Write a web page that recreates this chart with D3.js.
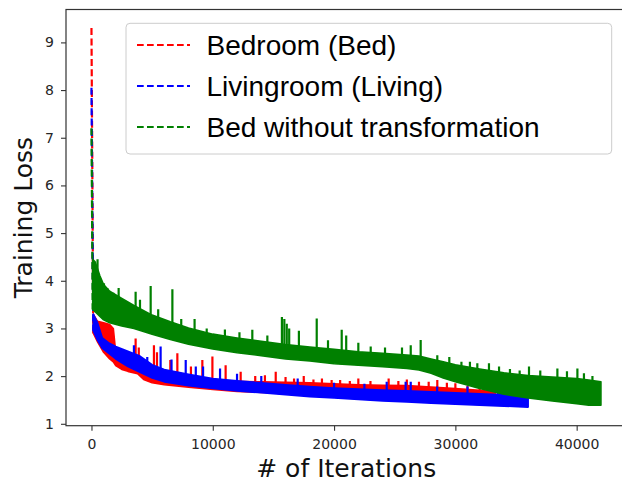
<!DOCTYPE html>
<html>
<head>
<meta charset="utf-8">
<script src="https://cdn.jsdelivr.net/npm/d3@7"></script>
<style>
  body { margin: 0; background: #fff; }
  svg { display: block; }
</style>
</head>
<body>
<svg id="chart"></svg>
<script>
// series labels / colours
const names = ["Bedroom (Bed)", "Livingroom (Living)", "Bed without transformation"];
const colors = ["#ff0000", "#0000ff", "#008000"];
const xTicks = [0, 10000, 20000, 30000, 40000];
const yTicks = [1, 2, 3, 4, 5, 6, 7, 8, 9];
// loss at iteration 0
const startPeaks = [9.3, 8.05, 7.2];

// Bedroom (Bed): band of the noisy loss curve
const bedIter = [150, 500, 1000, 1500, 1800, 2000, 2500, 3000, 3800, 4300, 5000, 6000, 8000, 10000, 12000, 14000, 16000, 18000, 20000, 22000, 24000, 26000, 28000, 30000, 32000, 33300];
const bedHigh = [3.3, 3.15, 3.12, 3.08, 3.0, 2.5, 2.38, 2.32, 2.26, 2.16, 2.06, 1.99, 1.94, 1.91, 1.89, 1.88, 1.87, 1.86, 1.84, 1.82, 1.81, 1.8, 1.77, 1.74, 1.7, 1.67];
const bedLow = [2.9, 2.72, 2.5, 2.36, 2.3, 2.22, 2.14, 2.1, 2.05, 1.93, 1.86, 1.82, 1.77, 1.72, 1.68, 1.66, 1.65, 1.63, 1.61, 1.6, 1.58, 1.57, 1.55, 1.53, 1.5, 1.5];
const bedSpikeIter = [1600, 3640, 3900, 5150, 5400, 6500, 7080, 8200, 9140, 9970, 11060, 12300, 13500, 14300, 15190, 16000, 16700, 17500, 18300, 19000, 19800, 20500, 21300, 22000, 23000, 24500, 25300, 26000, 27000, 27800, 28510, 29300, 30000, 31000, 32000, 32800];
const bedSpikeVal = [3.0, 2.79, 2.6, 2.65, 2.5, 2.34, 2.48, 2.2, 2.34, 2.41, 2.23, 2.09, 2.0, 2.02, 2.09, 1.98, 1.95, 2.0, 1.93, 1.95, 1.92, 1.92, 1.9, 1.95, 1.9, 1.95, 1.9, 1.93, 1.88, 1.88, 1.92, 1.86, 1.85, 1.8, 1.8, 1.76];

// Livingroom (Living)
const livIter = [150, 500, 900, 1400, 2000, 3000, 4000, 5000, 6000, 8000, 10000, 12000, 14000, 16000, 18000, 20000, 22000, 24000, 26000, 28000, 30000, 32000, 34000, 36000];
const livHigh = [3.3, 3.12, 2.8, 2.7, 2.62, 2.52, 2.42, 2.24, 2.14, 2.04, 1.95, 1.9, 1.86, 1.82, 1.78, 1.75, 1.73, 1.71, 1.69, 1.67, 1.65, 1.63, 1.61, 1.59];
const livLow = [2.95, 2.75, 2.58, 2.48, 2.36, 2.2, 2.08, 1.96, 1.88, 1.8, 1.74, 1.69, 1.65, 1.61, 1.57, 1.54, 1.51, 1.48, 1.46, 1.43, 1.41, 1.39, 1.37, 1.35];
const livSpikeIter = [3500, 4600, 5700, 6600, 7770, 8600, 9200, 10600, 12000, 14000, 17000, 20000, 22500, 24340, 25900, 26320, 28500, 31000, 33500];
const livSpikeVal = [2.65, 2.4, 2.62, 2.35, 2.34, 2.2, 2.2, 2.16, 2.05, 2.0, 1.95, 1.86, 1.84, 1.88, 1.88, 1.88, 1.78, 1.78, 1.72];

// Bed without transformation
const rawIter = [100, 300, 700, 1000, 1500, 2500, 3500, 5000, 6500, 8000, 10000, 12000, 14000, 16000, 18000, 20000, 22000, 24000, 26000, 27000, 28000, 29000, 30000, 32000, 34000, 36000, 38000, 40000, 41000, 42000];
const rawHigh = [4.45, 4.4, 4.1, 3.92, 3.78, 3.63, 3.48, 3.28, 3.14, 3.01, 2.88, 2.8, 2.73, 2.66, 2.61, 2.56, 2.51, 2.48, 2.44, 2.42, 2.36, 2.3, 2.24, 2.15, 2.07, 2.01, 1.98, 1.95, 1.92, 1.88];
const rawLow = [3.4, 3.35, 3.25, 3.18, 3.12, 3.05, 3.0, 2.88, 2.77, 2.67, 2.57, 2.49, 2.43, 2.36, 2.32, 2.26, 2.23, 2.2, 2.16, 2.13, 2.06, 1.96, 1.88, 1.74, 1.62, 1.54, 1.48, 1.42, 1.39, 1.39];
const rawSpikeIter = [500, 1030, 1310, 1800, 2240, 2800, 3640, 4000, 4880, 5500, 6670, 7400, 8500, 9500, 11000, 12200, 13260, 14500, 15700, 15900, 16100, 16300, 17100, 18570, 19500, 20630, 21000, 22000, 23020, 24200, 25600, 26320, 27140, 28510, 29500, 30500, 31200, 31810, 32770, 33600, 34500, 35300, 36070, 37000, 38410, 39200, 40060, 40600, 41300];
const rawSpikeVal = [4.45, 3.95, 3.85, 3.75, 3.85, 3.55, 3.77, 3.6, 3.89, 3.4, 3.82, 3.2, 3.2, 3.0, 2.98, 2.92, 2.97, 2.85, 3.24, 3.2, 3.1, 3.0, 2.95, 3.21, 2.75, 2.97, 2.85, 2.7, 2.62, 2.6, 2.6, 2.65, 2.76, 2.44, 2.4, 2.3, 2.3, 2.27, 2.27, 2.2, 2.15, 2.12, 2.2, 2.12, 2.16, 2.1, 2.16, 2.06, 2.0];

const series = [
  { iter: bedIter, hi: bedHigh, lo: bedLow, sx: bedSpikeIter, sy: bedSpikeVal },
  { iter: livIter, hi: livHigh, lo: livLow, sx: livSpikeIter, sy: livSpikeVal },
  { iter: rawIter, hi: rawHigh, lo: rawLow, sx: rawSpikeIter, sy: rawSpikeVal },
];

const w = 622, h = 485;
const margin = { left: 66, top: 9.5, bottom: 425.7, right: 626.4 };

const svg = d3.select("#chart").attr("width", w).attr("height", h);

const xScale = d3.scaleLinear().domain([-2100, 44100]).range([margin.left, margin.right]);
const yScale = d3.scaleLinear().domain([0.96, 9.69]).range([margin.bottom, margin.top]);

svg.append("defs").append("clipPath").attr("id", "plot")
  .append("rect").attr("x", margin.left).attr("y", margin.top)
  .attr("width", margin.right - margin.left).attr("height", margin.bottom - margin.top);

const plot = svg.append("g").attr("clip-path", "url(#plot)");

series.forEach((s, k) => {
  const col = colors[k];
  const g = plot.append("g");
  const bis = d3.bisector((d) => d).right;
  // spikes above the band
  g.selectAll("line.spike")
    .data(s.sx)
    .enter()
    .append("line")
    .attr("x1", (d) => xScale(d))
    .attr("x2", (d) => xScale(d))
    .attr("y1", (d, i) => yScale(s.sy[i]))
    .attr("y2", (d) => yScale(s.lo[Math.max(0, bis(s.iter, d) - 1)]))
    .attr("stroke", col)
    .attr("stroke-width", 2.2);
  // band
  const pts = s.iter.map((d, i) => ({ x: d, hi: s.hi[i], lo: s.lo[i] }));
  g.append("path")
    .datum(pts)
    .attr("fill", col)
    .attr("stroke", col)
    .attr("stroke-width", 1.6)
    .attr("stroke-linejoin", "round")
    .attr("d", d3.area()
      .x((d) => xScale(d.x))
      .y0((d) => yScale(d.lo))
      .y1((d) => yScale(d.hi)));
  // first iterations: the steep dashed drop
  g.append("path")
    .datum([[0, startPeaks[k]], [s.iter[0], s.lo[0]]])
    .attr("fill", "none")
    .attr("stroke", col)
    .attr("stroke-width", 2.2)
    .attr("stroke-dasharray", "7,3.3")
    .attr("d", d3.line().x((d) => xScale(d[0])).y((d) => yScale(d[1])));
});

// spines
svg.append("rect")
  .attr("x", margin.left).attr("y", margin.top)
  .attr("width", margin.right - margin.left).attr("height", margin.bottom - margin.top)
  .attr("fill", "none").attr("stroke", "#333").attr("stroke-width", 1.2);

const xAxis = svg.append("g")
  .attr("transform", `translate(0,${margin.bottom})`)
  .call(d3.axisBottom(xScale).tickValues(xTicks).tickSize(5).tickPadding(8).tickFormat(d3.format("d")));
const yAxis = svg.append("g")
  .attr("transform", `translate(${margin.left},0)`)
  .call(d3.axisLeft(yScale).tickValues(yTicks).tickSize(5).tickPadding(7).tickFormat(d3.format("d")));

[xAxis, yAxis].forEach((ax) => {
  ax.select(".domain").remove();
  ax.selectAll("line").attr("stroke", "#333").attr("stroke-width", 1.1);
  ax.selectAll("text")
    .attr("fill", "#262626")
    .style("font-family", "DejaVu Sans")
    .style("font-size", "14px");
});

svg.append("text")
  .attr("x", (margin.left + margin.right) / 2)
  .attr("y", 477)
  .attr("text-anchor", "middle")
  .style("font-family", "DejaVu Sans")
  .style("font-size", "25px")
  .attr("fill", "#111")
  .text("# of Iterations");

svg.append("text")
  .attr("transform", `translate(31.5,${(margin.top + margin.bottom) / 2}) rotate(-90)`)
  .attr("text-anchor", "middle")
  .style("font-family", "DejaVu Sans")
  .style("font-size", "25px")
  .attr("fill", "#111")
  .text("Training Loss");

// legend
const legend = svg.append("g");
legend.append("rect")
  .attr("x", 126).attr("y", 23.3)
  .attr("width", 485.7).attr("height", 130.7)
  .attr("rx", 4)
  .attr("fill", "rgba(255,255,255,0.8)")
  .attr("stroke", "#cccccc").attr("stroke-width", 1);

names.forEach((n, i) => {
  const yy = 45 + i * 41;
  legend.append("line")
    .attr("x1", 137).attr("x2", 190)
    .attr("y1", yy).attr("y2", yy)
    .attr("stroke", colors[i]).attr("stroke-width", 2)
    .attr("stroke-dasharray", "6.7,3.3");
  legend.append("text")
    .attr("x", 206.5).attr("y", yy + 10)
    .style("font-family", "Liberation Sans")
    .style("font-size", "28px")
    .attr("fill", "#000")
    .text(n);
});
</script>
</body>
</html>
